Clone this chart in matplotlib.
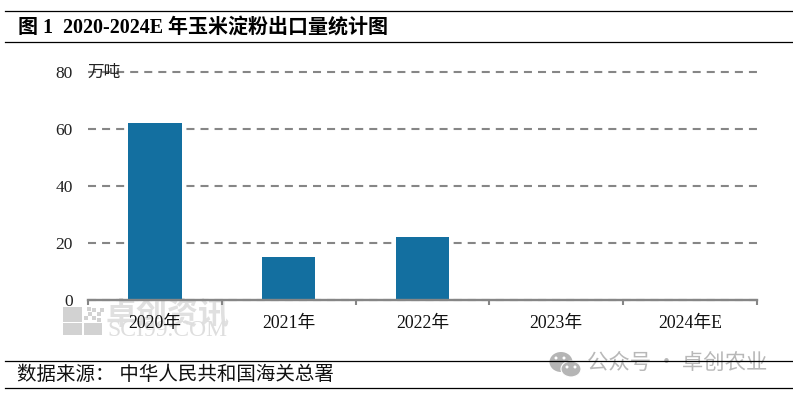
import matplotlib

matplotlib.use("Agg")

import matplotlib.pyplot as plt
from matplotlib.patches import Ellipse, Rectangle

plt.rcParams["font.family"] = ["Liberation Serif", "Noto Sans CJK SC"]

categories = ["2020年", "2021年", "2022年", "2023年", "2024年E"]
values = [62, 15, 22, 0, 0]
y_ticks = [0, 20, 40, 60, 80]

title = "图 1  2020-2024E 年玉米淀粉出口量统计图"
unit = "万吨"
source = "数据来源： 中华人民共和国海关总署"

W, H = 793, 396
BAR_COLOR = "#136FA0"
GREY = "#868686"
MARK = "#D2D2D2"


def fx(px):
    return px / W


def fy(py):
    return 1 - py / H


def box(x0, y0, w, h, color=MARK, z=0):
    fig.add_artist(Rectangle((fx(x0), fy(y0 + h)), w / W, h / H, transform=fig.transFigure,
                             color=color, lw=0, zorder=z))


fig = plt.figure(figsize=(W / 100, H / 100), dpi=100)

# watermark sits under the axes
box(63, 307, 19, 15)
box(63, 323, 19, 12)
box(84, 323, 18, 12)
for dx, dy in [(84, 316), (88, 312), (92, 316), (92, 308), (97, 312), (97, 318), (87, 307), (100, 308)]:
    box(dx, dy, 3.5, 3.5)
fig.text(fx(106), fy(315), "卓创资讯", fontsize=22.3, color="#E0E0E0", va="center", ha="left",
         family="Noto Sans CJK SC", fontweight="bold", zorder=0)
fig.text(fx(107), fy(331), "SCI99.COM", fontsize=17, color="#DEDEDE", va="center", ha="left", zorder=0)

ax = fig.add_axes([fx(88), fy(300), (757 - 88) / W, (300 - 72) / H], zorder=1)
ax.patch.set_alpha(0)
x = list(range(len(categories)))
ax.bar(x, values, width=0.4, color=BAR_COLOR, lw=0, zorder=2)
ax.set_xlim(-0.5, 4.5)
ax.set_ylim(0, 80)
ax.set_yticks(y_ticks)
ax.yaxis.grid(True, color=GREY, lw=1.5, dashes=(3.85, 2.9), clip_on=False)
ax.set_axisbelow(True)
ax.tick_params(axis="y", length=0, pad=11, labelsize=12.5, labelcolor="#222222")
ax.set_xticks([i - 0.5 for i in range(6)], minor=False)
ax.set_xticklabels([])
ax.tick_params(axis="x", length=3.5, width=1.5, color=GREY, direction="out")
for i, name in enumerate(categories):
    ax.annotate(name, (i, 0), xycoords=("data", "axes fraction"), xytext=(0, -17),
                textcoords="offset points", ha="center", va="center", fontsize=12.8, color="#111111")
for side in ["top", "left", "right"]:
    ax.spines[side].set_visible(False)
ax.spines["bottom"].set_color(GREY)
ax.spines["bottom"].set_linewidth(1.7)

fig.text(fx(87), fy(73), unit, fontsize=12, color="#222222", va="center", ha="left", zorder=5)

# wechat mark in the corner
fig.add_artist(Ellipse((fx(561), fy(362)), 23 / W, 20 / H, transform=fig.transFigure, color="#B5B5B5", lw=0, zorder=2))
fig.add_artist(Ellipse((fx(571), fy(369)), 20 / W, 16 / H, transform=fig.transFigure, fc="#B5B5B5",
                       ec="white", lw=0.8, zorder=2))
for ex, ey in [(556, 358), (564, 358), (567, 367), (575, 367)]:
    fig.add_artist(Ellipse((fx(ex), fy(ey)), 3 / W, 3 / H, transform=fig.transFigure, color="white", lw=0, zorder=2))
fig.text(fx(587), fy(363), "公众号 · 卓创农业", fontsize=15.4, color="#B8B8B8", va="center", ha="left",
         family="Noto Sans CJK SC", zorder=2)

# header and footer rules
for py in [10.5, 42, 361, 388]:
    fig.add_artist(plt.Line2D([fx(5), 1], [fy(py), fy(py)], color="black", lw=0.9, zorder=4))

fig.text(fx(18), fy(28), title, fontsize=14.4, fontweight="bold", va="center", ha="left", color="black")
fig.text(fx(17), fy(375), source, fontsize=14, va="center", ha="left", color="#111111")

fig.savefig("out.png", dpi=100)
plt.close(fig)
